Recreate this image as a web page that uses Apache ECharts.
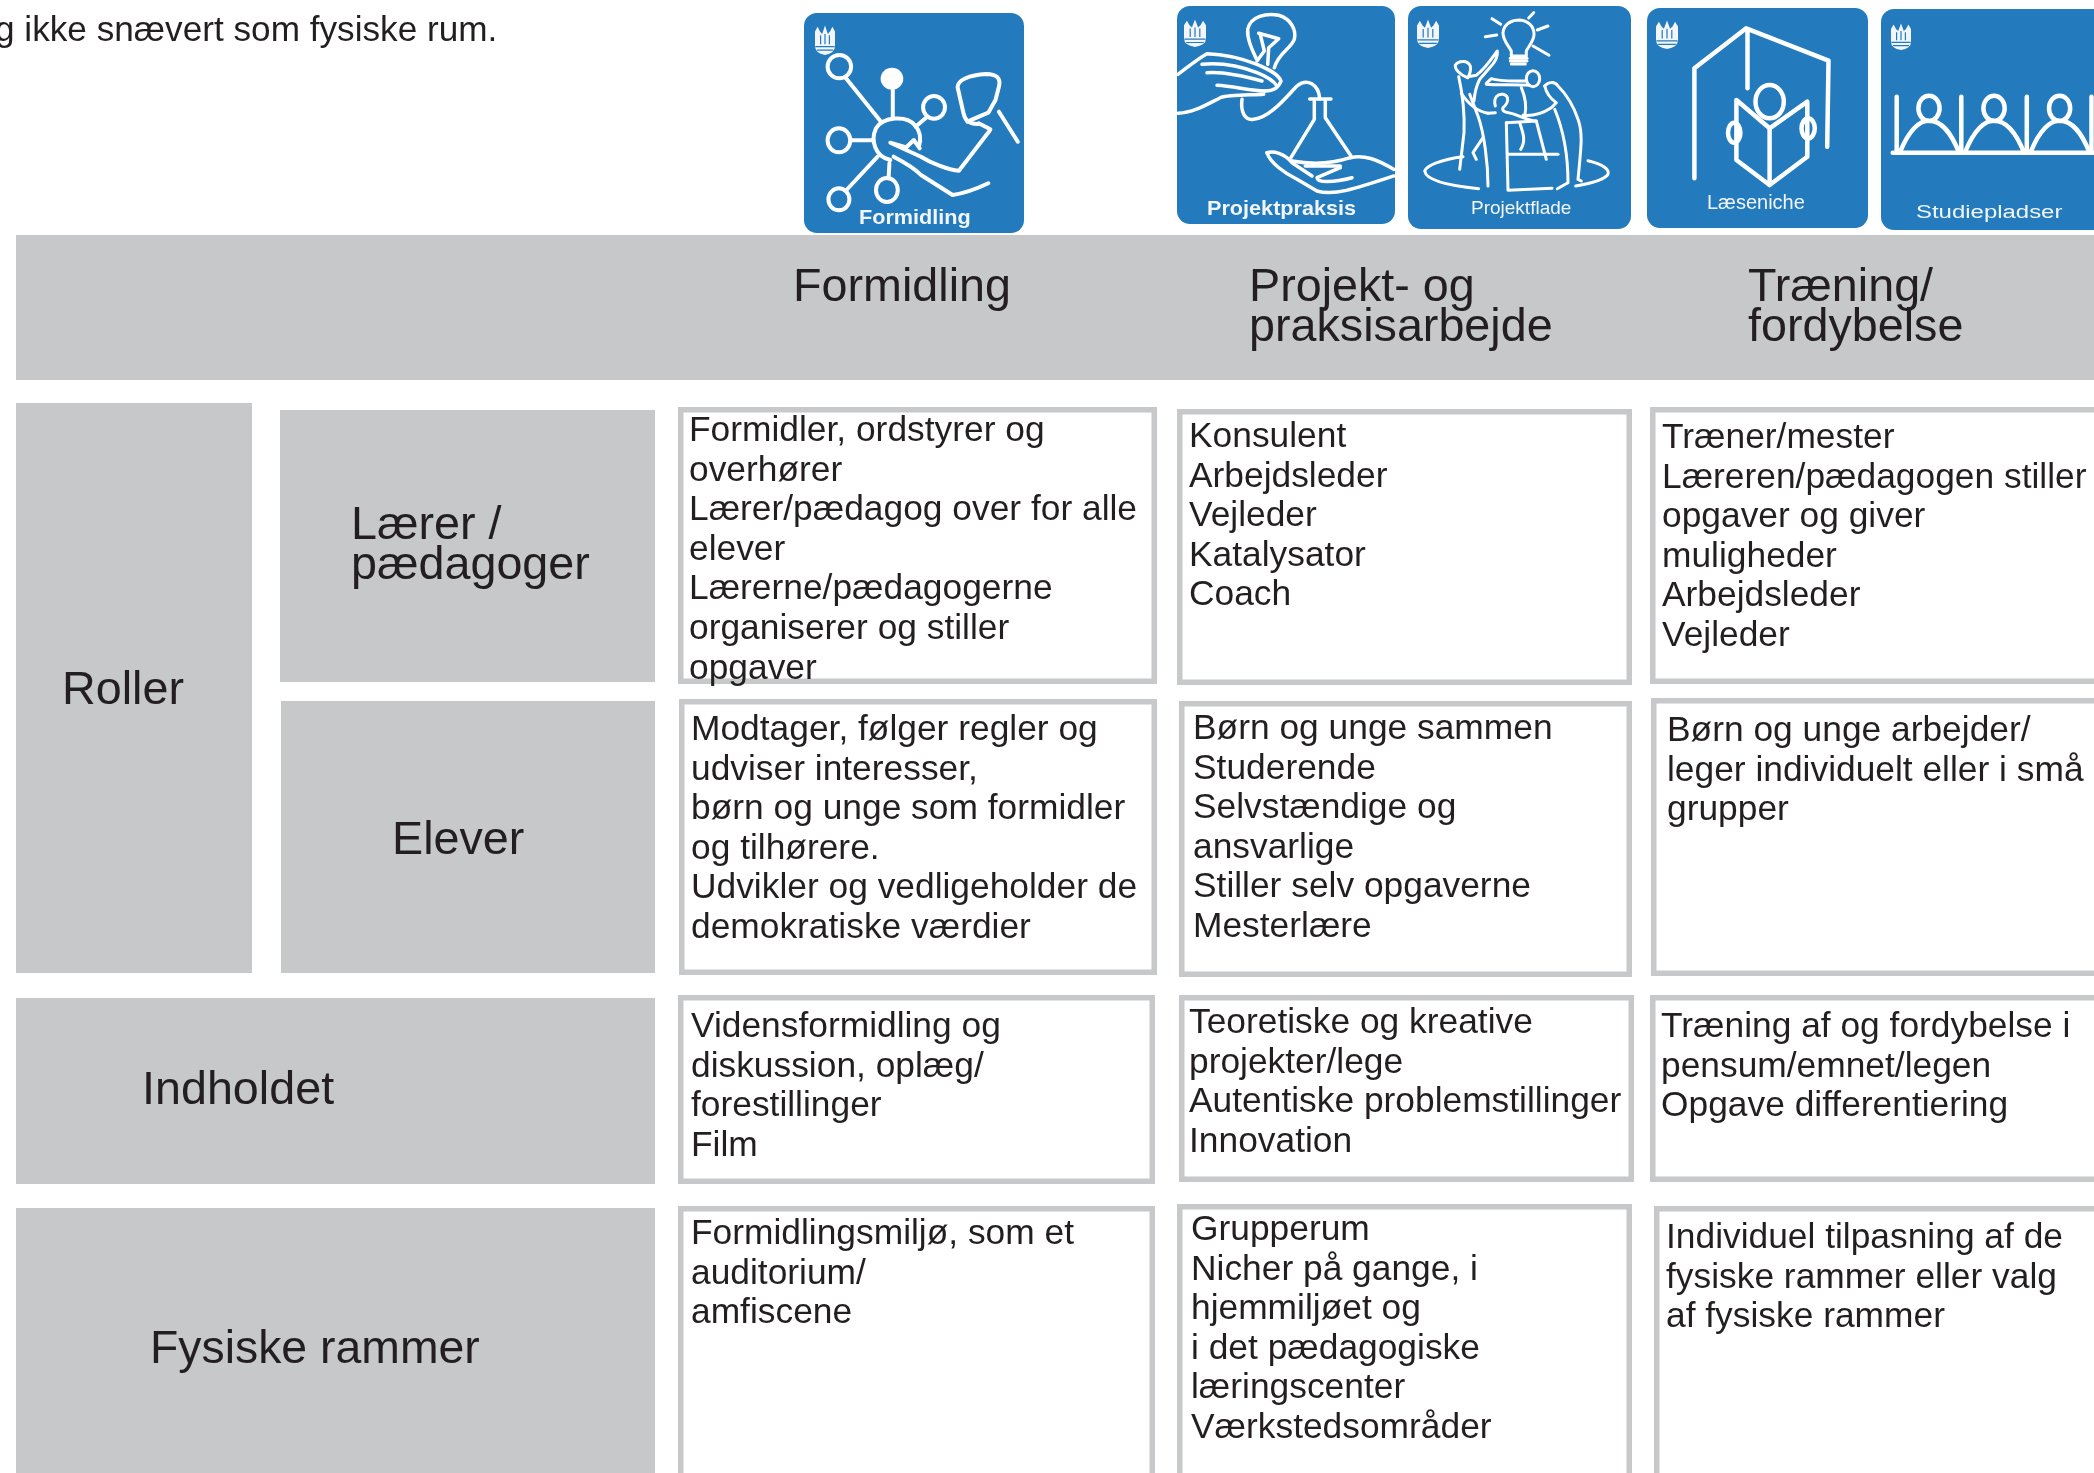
<!DOCTYPE html>
<html>
<head>
<meta charset="utf-8">
<title>Læringsrum</title>
<script src="https://cdn.jsdelivr.net/npm/echarts@6/dist/echarts.min.js"></script>
<style>
  html, body { margin: 0; padding: 0; background: #fff; }
  #main { width: 2094px; height: 1473px; }
</style>
</head>
<body>
<div id="main"></div>
<script>
// texts
const introLine = 'g ikke snævert som fysiske rum.'
const colHeaders = [['Formidling'], ['Projekt- og', 'praksisarbejde'], ['Træning/', 'fordybelse']]
const rowLabels = [['Roller'], ['Lærer /', 'pædagoger'], ['Elever'], ['Indholdet'], ['Fysiske rammer']]
const iconLabels = ['Formidling', 'Projektpraksis', 'Projektflade', 'Læseniche', 'Studiepladser']
const formidlingCells = [
  ['Formidler, ordstyrer og', 'overhører', 'Lærer/pædagog over for alle', 'elever', 'Lærerne/pædagogerne', 'organiserer og stiller', 'opgaver'],
  ['Modtager, følger regler og', 'udviser interesser,', 'børn og unge som formidler', 'og tilhørere.', 'Udvikler og vedligeholder de', 'demokratiske værdier'],
  ['Vidensformidling og', 'diskussion, oplæg/', 'forestillinger', 'Film'],
  ['Formidlingsmiljø, som et', 'auditorium/', 'amfiscene']
]
const projektCells = [
  ['Konsulent', 'Arbejdsleder', 'Vejleder', 'Katalysator', 'Coach'],
  ['Børn og unge sammen', 'Studerende', 'Selvstændige og', 'ansvarlige', 'Stiller selv opgaverne', 'Mesterlære'],
  ['Teoretiske og kreative', 'projekter/lege', 'Autentiske problemstillinger', 'Innovation'],
  ['Grupperum', 'Nicher på gange, i', 'hjemmiljøet og', 'i det pædagogiske', 'læringscenter', 'Værkstedsområder']
]
const traeningCells = [
  ['Træner/mester', 'Læreren/pædagogen stiller', 'opgaver og giver', 'muligheder', 'Arbejdsleder', 'Vejleder'],
  ['Børn og unge arbejder/', 'leger individuelt eller i små', 'grupper'],
  ['Træning af og fordybelse i', 'pensum/emnet/legen', 'Opgave differentiering'],
  ['Individuel tilpasning af de', 'fysiske rammer eller valg', 'af fysiske rammer']
]
const cellColumns = [formidlingCells, projektCells, traeningCells]

// layout, in page pixels: x0, y0, x1, y1
const greyBlocks = [
  [16, 235, 2094, 380], [16, 403, 252, 973], [280, 410, 655, 682],
  [281, 701, 655, 973], [16, 998, 655, 1184], [16, 1208, 655, 1473]
]
const cellFrames = [
  [[678, 407, 1157, 684], [679, 699, 1157, 975], [678, 995, 1155, 1184], [678, 1206, 1155, 1490]],
  [[1177, 409, 1632, 685], [1179, 701, 1632, 977], [1179, 995, 1634, 1182], [1177, 1204, 1632, 1490]],
  [[1650, 407, 2110, 684], [1651, 698, 2110, 976], [1650, 995, 2110, 1182], [1654, 1206, 2110, 1490]]
]
// x, first baseline
const cellTextAt = [
  [[689, 439], [691, 738], [691, 1035], [691, 1242]],
  [[1189, 445], [1193, 737], [1189, 1031], [1191, 1238]],
  [[1662, 446], [1667, 739], [1661, 1035], [1666, 1246]]
]
const headerAt = [[793, 298], [1249, 298], [1748, 298]]
const rowLabelAt = [[62, 701], [351, 536], [392, 851], [142, 1101], [150, 1360]]
const iconFrames = [
  [804, 13, 1024, 233], [1177, 6, 1395, 224], [1408, 6, 1631, 229],
  [1647, 8, 1868, 228], [1881, 9, 2110, 230]
]
// label x, baseline, size, weight, scaleX
const iconLabelStyle = [
  [859, 223, 21, 'bold', 1.03], [1207, 214, 21, 'bold', 1.03], [1471, 213, 19, 'normal', 1],
  [1707, 208, 20, 'normal', 1], [1916, 217, 18, 'normal', 1.33]
]
const crestFrames = [
  [815, 25, 20, 30], [1184, 19, 22, 28], [1417, 19, 22, 29], [1656, 20, 22, 29], [1891, 23, 20, 27]
]

const GREY = '#c7c8ca'
const INK = '#231f20'
const BLUE = '#237bbd'
const FONT = '"Liberation Sans", Arial, sans-serif'
const BODY_SIZE = 35
const BODY_PITCH = 39.6
const HEAD_SIZE = 46

// icon line art, drawn in zoomed-crop units and mapped back to the page
const viewA = { ox: 780, oy: 0, sx: 2.376, sy: 3 }
const viewB = { ox: 1400, oy: 0, sx: 2.259, sy: 3 }
const viewFlade = { ox: 1408, oy: 6, sx: 3, sy: 3 }
const viewPraksis = { ox: 1177, oy: 6, sx: 3, sy: 3 }

function oval(cx, cy, rx, ry) {
  const k = 0.5523
  return `M${cx - rx} ${cy} C${cx - rx} ${cy - ry * k} ${cx - rx * k} ${cy - ry} ${cx} ${cy - ry} ` +
    `C${cx + rx * k} ${cy - ry} ${cx + rx} ${cy - ry * k} ${cx + rx} ${cy} ` +
    `C${cx + rx} ${cy + ry * k} ${cx + rx * k} ${cy + ry} ${cx} ${cy + ry} ` +
    `C${cx - rx * k} ${cy + ry} ${cx - rx} ${cy + ry * k} ${cx - rx} ${cy} Z`
}

function toPage(d, v) {
  return d.replace(/(-?[\d.]+) (-?[\d.]+)/g, (m, a, b) =>
    (v.ox + a / v.sx).toFixed(1) + ' ' + (v.oy + b / v.sy).toFixed(1))
}

const formidlingArt = [
  oval(141, 200, 28, 35), oval(366, 322, 26, 34), oval(140, 421, 27, 36),
  oval(140, 598, 25, 33), oval(254, 570, 26, 36),
  'M155 232 L238 362', 'M268 270 L268 355', 'M350 350 L322 380', 'M168 421 L222 421',
  'M158 570 L232 470', 'M258 535 L260 490',
  // hub
  'M262 480 C225 470 215 420 228 385 C245 350 300 345 320 375 C335 395 335 420 330 440',
  // figure
  'M470 372 C445 370 440 360 436 340 L422 262 C422 240 450 225 490 222 C515 222 525 235 520 260 L512 300 L495 338 L445 365',
  'M520 335 L565 425', 'M472 370 L500 388',
  'M498 392 L425 512 C400 510 360 490 335 470 L262 428 L300 442 L318 420 L332 445',
  'M270 470 C300 490 320 505 335 525 L410 585 C440 580 470 565 495 550'
]
const formidlingDot = oval(266, 236, 27, 33)

const praksisArt = [
  'M238 158 C225 130 210 100 212 70 C220 30 270 20 305 28 C345 40 358 75 352 100 C340 130 305 140 292 185',
  'M245 82 L305 98 L275 125 L272 175', 'M250 85 L262 135 L240 165',
  'M3 205 C30 185 60 160 90 143 C140 145 190 155 240 175 C275 190 305 205 312 225 C305 245 290 255 265 255',
  'M75 175 C130 170 190 180 240 200 C265 210 290 225 300 240', 'M90 200 C140 195 200 210 255 225',
  'M120 238 C170 240 220 255 265 255',
  'M3 322 C50 320 90 295 130 275 C160 265 220 268 260 265',
  'M195 280 C190 320 205 345 230 340 C280 335 330 270 360 240 C390 215 425 235 428 278',
  'M398 279 L462 279', 'M412 285 L412 340 L340 458', 'M445 285 L445 335 L522 450',
  'M345 465 C400 475 460 475 520 455', 'M385 480 L490 480',
  'M270 440 C290 435 320 440 345 470 L405 510',
  'M270 440 C280 470 320 500 360 520 L420 555 C470 570 530 550 650 510',
  'M520 455 C560 445 600 460 650 490',
  'M490 485 L420 515 C420 530 470 530 525 515'
]

const fladeArt = [
  'M310 135 C300 115 285 105 285 80 C288 50 315 42 335 42 C360 45 378 60 378 85 C378 105 362 120 355 135 L355 150 L310 150 Z',
  'M307 157 L357 157', 'M307 165 L357 165', 'M310 174 L352 174',
  'M252 38 L278 55', 'M362 36 L377 20', 'M388 72 L420 60', 'M232 92 L266 87', 'M375 120 L423 148',
  'M165 452 C100 460 55 480 50 495 C55 525 130 540 212 548',
  'M540 464 C585 475 605 490 600 505 C590 520 550 532 503 540', 'M300 553 L432 547',
  // left figure
  'M178 215 C155 205 140 190 142 178 C150 165 178 160 187 180 C190 195 185 205 180 215',
  'M180 212 L205 208 C230 190 250 160 268 135 C270 150 260 170 245 185 L215 220 C205 240 200 260 198 285',
  'M152 212 C165 270 170 330 168 380 L155 490', 'M160 262 C175 285 200 315 240 322',
  'M185 265 L210 330 C228 380 240 470 240 540', 'M225 395 L195 440 L205 460',
  // upper figure
  oval(375, 218, 20, 24),
  'M235 235 C260 238 320 235 365 238', 'M235 232 L250 218 C280 228 320 225 355 225',
  'M340 245 C355 280 355 310 350 330', 'M335 350 C345 380 355 405 338 430',
  // centre figure
  'M262 300 C255 275 270 262 285 265 C305 270 302 290 285 305 C280 320 300 318 320 325 C345 335 370 345 385 345',
  'M240 322 L262 320',
  // right figure
  'M410 240 C420 228 440 225 450 240 C480 270 500 310 510 340 C525 380 520 420 510 520 L520 525',
  'M410 240 C415 260 430 280 445 290 L430 305 C400 325 370 330 345 328',
  'M440 310 C465 370 480 440 480 530 L448 548',
  // frame
  'M295 350 L300 550', 'M295 350 L385 345 L415 460', 'M300 445 L450 445'
]

const nicheArt = [
  'M665 535 L665 205 L782 85 L968 182 L965 440', 'M785 90 L785 265',
  'M760 300 L835 385 L920 305 L920 470 L835 555 L760 480 Z', 'M835 385 L835 555'
]
const nicheOvals = [oval(835, 305, 32, 50), oval(755, 398, 14, 30), oval(922, 385, 15, 30)]

const pladsArt = [
  'M1113 458 L2000 458', 'M1122 290 L1122 455', 'M1268 290 L1268 455', 'M1416 290 L1416 455', 'M1562 290 L1562 455', 'M1710 290 L1710 455',
  oval(1195, 325, 24, 38), 'M1130 455 C1150 390 1175 360 1195 362 C1225 362 1245 400 1262 455',
  oval(1342, 325, 24, 38), 'M1277 455 C1297 390 1322 360 1342 362 C1372 362 1392 400 1409 455',
  oval(1490, 325, 24, 38), 'M1425 455 C1445 390 1470 360 1490 362 C1520 362 1540 400 1557 455',
  oval(1637, 325, 24, 38), 'M1572 455 C1592 390 1617 360 1637 362 C1667 362 1687 400 1704 455'
]

const iconArt = [
  { v: viewA, lines: formidlingArt, dots: [formidlingDot], width: 4 },
  { v: viewPraksis, lines: praksisArt, dots: [], width: 3.5 },
  { v: viewFlade, lines: fladeArt, dots: [], width: 3 },
  { v: viewB, lines: nicheArt.concat(nicheOvals), dots: [], width: 4.5 },
  { v: viewB, lines: pladsArt, dots: [], width: 4.5 }
]

function textLine(api, x, baseline, str, size, opts) {
  const o = opts || {}
  const p = api.coord([x, baseline - size * 0.22])
  return {
    type: 'text',
    x: p[0],
    y: p[1],
    scaleX: o.scaleX || 1,
    style: {
      text: str,
      x: 0,
      y: 0,
      fill: o.fill || INK,
      font: `${o.weight || 'normal'} ${size}px ${FONT}`,
      align: 'left',
      verticalAlign: 'middle'
    }
  }
}

function textBlock(api, x, baseline, lines, size, pitch, scaleX) {
  return lines.map((str, i) => textLine(api, x, baseline + i * pitch, str, size, { scaleX }))
}

function rectBetween(api, f) {
  const a = api.coord([f[0], f[1]])
  const b = api.coord([f[2], f[3]])
  return { x: a[0], y: a[1], width: b[0] - a[0], height: b[1] - a[1] }
}

function crest(api, f) {
  const o = api.coord([f[0], f[1]])
  const w = f[2]
  const h = f[3]
  const pt = (a, b) => (o[0] + a * w).toFixed(1) + ' ' + (o[1] + b * h).toFixed(1)
  const outline = `M${pt(0, .22)} L${pt(.13, .06)} L${pt(.25, .22)} L${pt(.36, .3)} L${pt(.5, .02)} L${pt(.64, .3)} ` +
    `L${pt(.75, .22)} L${pt(.87, .06)} L${pt(1, .22)} L${pt(1, .7)} Q${pt(1, .94)} ${pt(.5, 1)} Q${pt(0, .94)} ${pt(0, .7)} Z`
  const marks = `M${pt(.28, .34)} L${pt(.28, .64)} M${pt(.5, .3)} L${pt(.5, .64)} M${pt(.72, .34)} L${pt(.72, .64)} ` +
    `M${pt(.02, .72)} L${pt(.98, .72)} M${pt(.1, .84)} L${pt(.9, .84)}`
  return [
    { type: 'path', shape: { pathData: outline }, style: { fill: '#f2f6fa', stroke: 'none' } },
    { type: 'path', shape: { pathData: marks }, style: { fill: 'none', stroke: BLUE, lineWidth: 1.2 } }
  ]
}

const option = {
  animation: false,
  backgroundColor: '#fff',
  grid: { left: 0, right: 0, top: 0, bottom: 0 },
  xAxis: { type: 'value', min: 0, max: 2094, show: false },
  yAxis: { type: 'value', min: 0, max: 1473, inverse: true, show: false },
  series: [
    {
      // grey header blocks
      type: 'custom',
      silent: true,
      clip: true,
      data: greyBlocks.map((b, i) => [i]),
      encode: { x: 0 },
      renderItem(params, api) {
        return { type: 'rect', shape: rectBetween(api, greyBlocks[api.value(0)]), style: { fill: GREY } }
      }
    },
    {
      // framed text cells
      type: 'custom',
      silent: true,
      clip: true,
      data: cellColumns.flatMap((col, c) => col.map((cell, r) => [c, r])),
      encode: { x: 0 },
      renderItem(params, api) {
        const c = api.value(0)
        const r = api.value(1)
        const box = rectBetween(api, cellFrames[c][r])
        const at = cellTextAt[c][r]
        return {
          type: 'group',
          children: [{
            type: 'rect',
            shape: { x: box.x + 2.75, y: box.y + 2.75, width: box.width - 5.5, height: box.height - 5.5 },
            style: { fill: '#fff', stroke: GREY, lineWidth: 5.5 }
          }].concat(textBlock(api, at[0], at[1], cellColumns[c][r], BODY_SIZE, BODY_PITCH, 1.01))
        }
      }
    },
    {
      // column headers and row labels
      type: 'custom',
      silent: true,
      clip: true,
      data: [[0]],
      encode: { x: 0 },
      renderItem(params, api) {
        const kids = []
        colHeaders.forEach((lines, i) => kids.push(...textBlock(api, headerAt[i][0], headerAt[i][1], lines, HEAD_SIZE, 40, 1.015)))
        rowLabels.forEach((lines, i) => kids.push(...textBlock(api, rowLabelAt[i][0], rowLabelAt[i][1], lines, HEAD_SIZE, 40, i === 4 ? 1.008 : 1.015)))
        kids.push(textLine(api, -5, 39, introLine, BODY_SIZE, { scaleX: 1.005 }))
        return { type: 'group', children: kids }
      }
    },
    {
      // pictogram tiles
      type: 'custom',
      silent: true,
      clip: true,
      data: iconLabels.map((l, i) => [i]),
      encode: { x: 0 },
      renderItem(params, api) {
        const i = api.value(0)
        const art = iconArt[i]
        const ls = iconLabelStyle[i]
        const kids = [{
          type: 'rect',
          shape: Object.assign(rectBetween(api, iconFrames[i]), { r: 13 }),
          style: { fill: BLUE }
        }]
        kids.push(...crest(api, crestFrames[i]))
        art.lines.forEach(d => kids.push({
          type: 'path',
          shape: { pathData: toPage(d, art.v) },
          style: { fill: 'none', stroke: '#fff', lineWidth: art.width, lineCap: 'round', lineJoin: 'round' }
        }))
        art.dots.forEach(d => kids.push({
          type: 'path',
          shape: { pathData: toPage(d, art.v) },
          style: { fill: '#fff', stroke: 'none' }
        }))
        kids.push(textLine(api, ls[0], ls[1], iconLabels[i], ls[2], { fill: '#f2f6fa', weight: ls[3], scaleX: ls[4] }))
        return { type: 'group', children: kids }
      }
    }
  ]
}

const chart = echarts.init(document.getElementById('main'))
chart.setOption(option)
window.addEventListener('resize', () => chart.resize())
</script>
</body>
</html>
